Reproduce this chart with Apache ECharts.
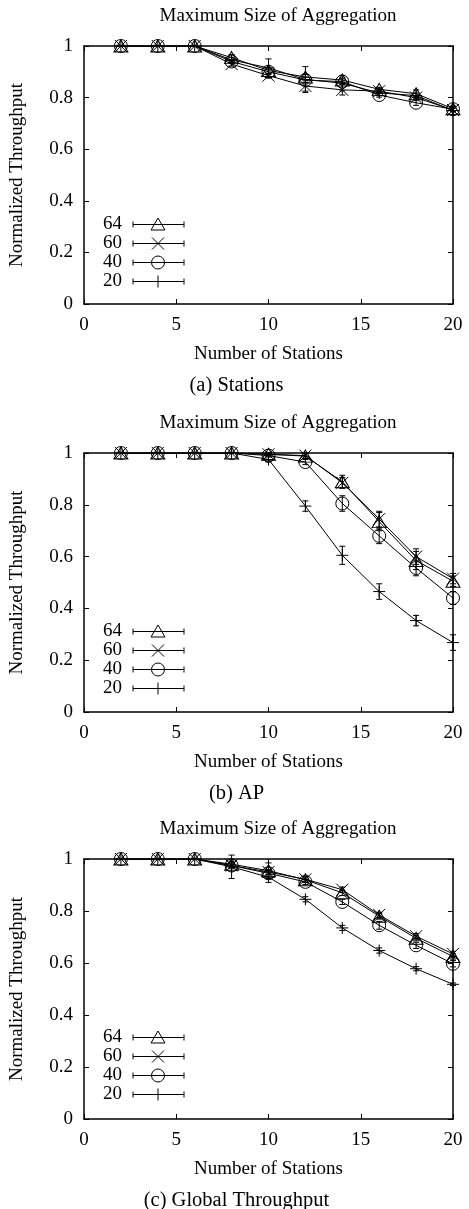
<!DOCTYPE html>
<html>
<head>
<meta charset="utf-8">
<script src="https://cdn.jsdelivr.net/npm/echarts@6/dist/echarts.min.js"></script>
<style>
html, body { margin: 0; padding: 0; background: #fff; }
#main { width: 469px; height: 1209px; }
</style>
</head>
<body>
<div id="main"></div>
<script>
// number of stations on the x axis
var stations = [2, 4, 6, 8, 10, 12, 14, 16, 18, 20]
// maximum aggregation size, one line per size
var aggSizes = ['64', '60', '40', '20']

// (a) Stations : normalized throughput, rows follow aggSizes
var stationsTput = [
  [1, 1, 1, 0.955, 0.905, 0.88, 0.868, 0.832, 0.815, 0.757],
  [1, 1, 1, 0.93, 0.885, 0.845, 0.83, 0.825, 0.80, 0.752],
  [1, 1, 1, 0.94, 0.90, 0.868, 0.862, 0.81, 0.78, 0.755],
  [1, 1, 1, 0.946, 0.915, 0.87, 0.856, 0.818, 0.808, 0.75]
]
var stationsErr = [
  [0, 0, 0, 0.012, 0.01, 0.01, 0.008, 0.008, 0.015, 0.01],
  [0, 0, 0, 0.008, 0.008, 0.02, 0.02, 0.008, 0.008, 0.008],
  [0, 0, 0, 0.008, 0.01, 0.01, 0.01, 0.008, 0.01, 0.008],
  [0, 0, 0, 0.01, 0.035, 0.05, 0.03, 0.01, 0.01, 0.015]
]

// (b) AP
var apTput = [
  [1, 1, 1, 1, 0.995, 0.988, 0.889, 0.735, 0.585, 0.505],
  [1, 1, 1, 1, 0.995, 0.99, 0.885, 0.745, 0.60, 0.515],
  [1, 1, 1, 1, 0.99, 0.965, 0.805, 0.68, 0.556, 0.44],
  [1, 1, 1, 1, 0.975, 0.795, 0.605, 0.465, 0.353, 0.268]
]
var apErr = [
  [0, 0, 0, 0, 0.005, 0.01, 0.025, 0.035, 0.035, 0.02],
  [0, 0, 0, 0, 0.005, 0.01, 0.02, 0.03, 0.03, 0.02],
  [0, 0, 0, 0, 0.005, 0.01, 0.03, 0.03, 0.03, 0.025],
  [0, 0, 0, 0, 0.01, 0.02, 0.035, 0.03, 0.02, 0.03]
]

// (c) Global Throughput
var globalTput = [
  [1, 1, 1, 0.98, 0.955, 0.92, 0.87, 0.78, 0.695, 0.625],
  [1, 1, 1, 0.975, 0.95, 0.922, 0.882, 0.785, 0.703, 0.635],
  [1, 1, 1, 0.975, 0.945, 0.912, 0.835, 0.745, 0.668, 0.597],
  [1, 1, 1, 0.97, 0.93, 0.845, 0.735, 0.648, 0.578, 0.518]
]
var globalErr = [
  [0, 0, 0, 0.01, 0.03, 0.01, 0.01, 0.01, 0.01, 0.01],
  [0, 0, 0, 0.01, 0.01, 0.01, 0.01, 0.01, 0.01, 0.01],
  [0, 0, 0, 0.01, 0.01, 0.01, 0.01, 0.015, 0.012, 0.012],
  [0, 0, 0, 0.045, 0.02, 0.01, 0.01, 0.01, 0.008, 0.005]
]

var panelTitle = 'Maximum Size of Aggregation'
var captions = ['(a) Stations', '(b) AP', '(c) Global Throughput']
var xName = 'Number of Stations'
var yName = 'Normalized Throughput'

var panels = [
  { tput: stationsTput, err: stationsErr },
  { tput: apTput, err: apErr },
  { tput: globalTput, err: globalErr }
]

var FONT = 'Liberation Serif'
var FS = 19
var grids = [
  { left: 84, top: 46, width: 369, height: 258 },
  { left: 84, top: 453, width: 369, height: 259 },
  { left: 84, top: 859, width: 369, height: 260 }
]

// gnuplot style point types
var symbols = [
  { path: 'path://M7,0L14,12L0,12Z', size: [14, 12] },
  { path: 'path://M0,0L12,12M12,0L0,12', size: [12, 12] },
  { path: 'path://M0,6A6,6,0,1,1,12,6A6,6,0,1,1,0,6Z', size: [13, 13] },
  { path: 'path://M6,0L6,12M0,6L12,6', size: [12, 12] }
]

var txt = { color: '#000', fontFamily: FONT, fontSize: FS }
var axisLine = { show: true, onZero: false, lineStyle: { color: '#000', width: 1.5 } }
var axisTick = { show: true, inside: true, length: 5, lineStyle: { color: '#000', width: 1 } }

var xAxes = [], yAxes = [], series = [], graphic = []

function errorBar(params, api) {
  var top = api.coord([api.value(0), api.value(2)])
  var bot = api.coord([api.value(0), api.value(1)])
  var w = 3
  var st = { stroke: '#000', lineWidth: 1 }
  return {
    type: 'group',
    children: [
      { type: 'line', shape: { x1: top[0], y1: top[1], x2: bot[0], y2: bot[1] }, style: st },
      { type: 'line', shape: { x1: top[0] - w, y1: top[1], x2: top[0] + w, y2: top[1] }, style: st },
      { type: 'line', shape: { x1: bot[0] - w, y1: bot[1], x2: bot[0] + w, y2: bot[1] }, style: st }
    ]
  }
}

function legendMarker(k, cx, cy) {
  var st = { fill: 'none', stroke: '#000', lineWidth: 1 }
  if (k == 0) return [{ type: 'polygon', shape: { points: [[cx, cy - 6.5], [cx + 7, cy + 5.5], [cx - 7, cy + 5.5]] }, style: st }]
  if (k == 1) return [
    { type: 'line', shape: { x1: cx - 6, y1: cy - 6, x2: cx + 6, y2: cy + 6 }, style: st },
    { type: 'line', shape: { x1: cx + 6, y1: cy - 6, x2: cx - 6, y2: cy + 6 }, style: st }
  ]
  if (k == 2) return [{ type: 'circle', shape: { cx: cx, cy: cy, r: 6.5 }, style: st }]
  return [
    { type: 'line', shape: { x1: cx, y1: cy - 6, x2: cx, y2: cy + 6 }, style: st },
    { type: 'line', shape: { x1: cx - 6, y1: cy, x2: cx + 6, y2: cy }, style: st }
  ]
}

panels.forEach(function (panel, p) {
  var g = grids[p]
  xAxes.push({
    gridIndex: p, type: 'value', min: 0, max: 20, interval: 5, position: 'bottom',
    axisLine: axisLine, axisTick: axisTick, splitLine: { show: false },
    axisLabel: Object.assign({ margin: 12 }, txt),
    name: xName, nameLocation: 'middle', nameGap: 41, nameTextStyle: txt
  })
  xAxes.push({
    gridIndex: p, type: 'value', min: 0, max: 20, interval: 5, position: 'top',
    axisLine: axisLine, axisTick: axisTick, splitLine: { show: false }, axisLabel: { show: false }
  })
  yAxes.push({
    gridIndex: p, type: 'value', min: 0, max: 1, interval: 0.2, position: 'left',
    axisLine: axisLine, axisTick: axisTick, splitLine: { show: false },
    axisLabel: Object.assign({ margin: 11 }, txt),
    name: yName, nameLocation: 'middle', nameGap: 57, nameRotate: 90, nameTextStyle: txt
  })
  yAxes.push({
    gridIndex: p, type: 'value', min: 0, max: 1, interval: 0.2, position: 'right',
    axisLine: axisLine, axisTick: axisTick, splitLine: { show: false }, axisLabel: { show: false }
  })

  aggSizes.forEach(function (name, k) {
    var vals = panel.tput[k], errs = panel.err[k]
    var bars = []
    stations.forEach(function (x, i) {
      if (errs[i] > 0) bars.push([x, vals[i] - errs[i], vals[i] + errs[i]])
    })
    series.push({
      type: 'custom', name: name + ' err', xAxisIndex: 2 * p, yAxisIndex: 2 * p,
      renderItem: errorBar, data: bars, z: 2, silent: true
    })
    series.push({
      type: 'line', name: name, xAxisIndex: 2 * p, yAxisIndex: 2 * p,
      data: stations.map(function (x, i) { return [x, vals[i]] }),
      symbol: symbols[k].path, symbolSize: symbols[k].size, showAllSymbol: true,
      lineStyle: { color: '#000', width: 1 },
      itemStyle: { color: 'none', borderColor: '#000', borderWidth: 1 },
      z: 3, silent: true, animation: false
    })

    // key, gnuplot style: label, then line with end caps and point
    var ly = g.top + 178.5 + 19 * k
    graphic.push({ type: 'text', x: 122, y: ly, style: { text: name, fill: '#000', fontFamily: FONT, fontSize: FS, align: 'right', verticalAlign: 'middle' } })
    var ls = { stroke: '#000', lineWidth: 1 }
    graphic.push({ type: 'line', shape: { x1: 133, y1: ly, x2: 184, y2: ly }, style: ls })
    graphic.push({ type: 'line', shape: { x1: 133, y1: ly - 3, x2: 133, y2: ly + 3 }, style: ls })
    graphic.push({ type: 'line', shape: { x1: 184, y1: ly - 3, x2: 184, y2: ly + 3 }, style: ls })
    legendMarker(k, 158, ly).forEach(function (m) { graphic.push(m) })
  })

  graphic.push({ type: 'text', x: 278, y: g.top - 30, style: { text: panelTitle, fill: '#000', fontFamily: FONT, fontSize: FS, align: 'center', verticalAlign: 'middle' } })
  graphic.push({ type: 'text', x: 236.5, y: g.top + g.height + 82, style: { text: captions[p], fill: '#000', fontFamily: FONT, fontSize: 20.5, align: 'center', verticalAlign: 'middle' } })
})

var myChart = echarts.init(document.getElementById('main'))
myChart.setOption({
  animation: false,
  backgroundColor: '#fff',
  grid: grids,
  xAxis: xAxes,
  yAxis: yAxes,
  series: series,
  graphic: graphic
})
</script>
</body>
</html>
